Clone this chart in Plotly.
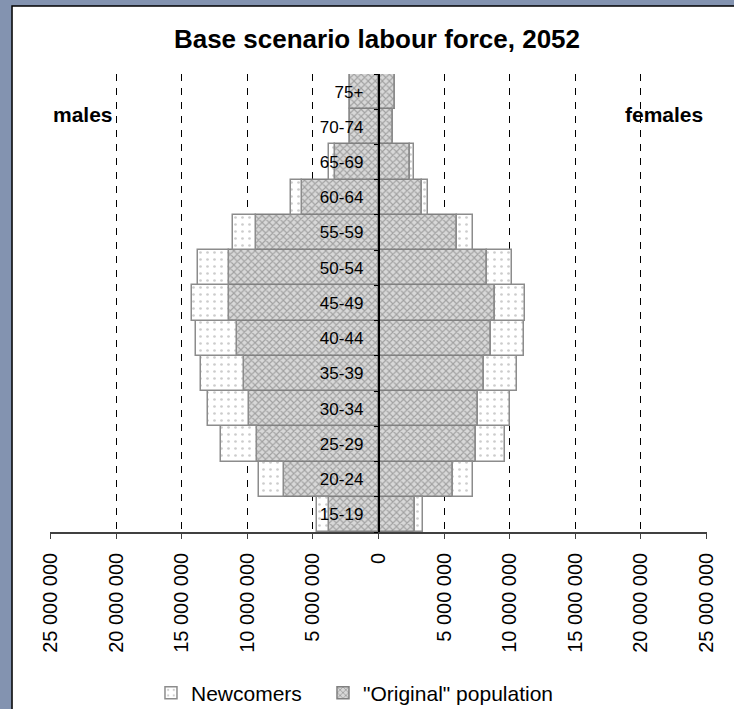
import plotly.graph_objects as go

AGE_GROUPS = ['15-19', '20-24', '25-29', '30-34', '35-39', '40-44', '45-49',
              '50-54', '55-59', '60-64', '65-69', '70-74', '75+']

MALE_ORIGINAL = [3810000, 7220000, 9260000, 9870000, 10270000, 10780000, 11400000,
                 11400000, 9360000, 5850000, 3330000, 2170000, 2170000]
MALE_NEWCOMERS = [870000, 1880000, 2740000, 3130000, 3280000, 3150000, 2800000,
                  2400000, 1770000, 860000, 480000, 30000, 30000]
FEMALE_ORIGINAL = [2770000, 5670000, 7440000, 7550000, 8050000, 8560000, 8920000,
                   8280000, 5950000, 3280000, 2390000, 1070000, 1240000]
FEMALE_NEWCOMERS = [630000, 1520000, 2210000, 2510000, 2520000, 2520000, 2280000,
                    1920000, 1220000, 480000, 350000, 30000, 20000]

X_TICKS = [-25000000, -20000000, -15000000, -10000000, -5000000, 0,
           5000000, 10000000, 15000000, 20000000, 25000000]

FONT = 'Liberation Sans, Arial, sans-serif'
BORDER = '#8393b0'

ORIG_STYLE = dict(color='#d6d6d6', line=dict(color='#808080', width=1.5),
                  pattern=dict(shape='x', fgcolor='#6a6a6a', bgcolor='#d8d8d8',
                               size=5, solidity=0.4))
NEW_STYLE = dict(color='white', line=dict(color='#8c8c8c', width=1.5),
                 pattern=dict(shape='.', fgcolor='#9a9a9a', bgcolor='white',
                              size=7, solidity=0.12))


def fmt(v):
    return f"{abs(v):,}".replace(',', ' ')


fig = go.Figure()

# males to the left (negative), females to the right
fig.add_trace(go.Bar(y=AGE_GROUPS, x=[-v for v in MALE_ORIGINAL], orientation='h',
                     name='"Original" population', legend='legend2', showlegend=False,
                     marker=ORIG_STYLE))
fig.add_trace(go.Bar(y=AGE_GROUPS, x=[-v for v in MALE_NEWCOMERS], orientation='h',
                     name='Newcomers', legend='legend', showlegend=False,
                     marker=NEW_STYLE))
fig.add_trace(go.Bar(y=AGE_GROUPS, x=FEMALE_ORIGINAL, orientation='h',
                     name='"Original" population', legend='legend2',
                     marker=ORIG_STYLE))
fig.add_trace(go.Bar(y=AGE_GROUPS, x=FEMALE_NEWCOMERS, orientation='h',
                     name='Newcomers', legend='legend',
                     marker=NEW_STYLE))

legend_style = dict(orientation='h', xanchor='left', xref='paper',
                    y=0.0226, yanchor='middle', yref='container',
                    font=dict(size=21), bgcolor='rgba(0,0,0,0)')

fig.update_layout(
    width=734, height=709,
    margin=dict(l=50, r=27, t=74, b=177, autoexpand=False),
    paper_bgcolor=BORDER,
    plot_bgcolor='white',
    barmode='relative',
    bargap=0,
    font=dict(family=FONT, color='black'),
    title=dict(text='<b>Base scenario labour force, 2052</b>', x=0.5136, xanchor='center',
               y=0.945, yanchor='middle', yref='container',
               font=dict(size=26, family=FONT, color='black')),
    xaxis=dict(range=[-25050000, 25050000], tickvals=X_TICKS,
               ticktext=[fmt(v) for v in X_TICKS], tickangle=-90,
               tickfont=dict(size=20), ticks='outside', ticklen=5,
               tickcolor='#404040', showline=True, linecolor='#404040', linewidth=1.5,
               showgrid=True, gridcolor='black', gridwidth=1, griddash='7px,7px',
               zeroline=False, fixedrange=True, automargin=False, ticklabelstandoff=6),
    yaxis=dict(categoryorder='array', categoryarray=AGE_GROUPS,
               anchor='free', position=0.5, showline=True, linecolor='black',
               linewidth=1.5, ticks='outside', ticklen=4, tickcolor='black',
               tickson='boundaries', tickfont=dict(size=17), showgrid=False,
               ticklabelstandoff=11, fixedrange=True, automargin=False),
    legend=dict(legend_style, x=0.1537),
    legend2=dict(legend_style, x=0.4155),
    showlegend=True,
    shapes=[
        # white chart panel inside the blue-grey frame
        dict(type='rect', xref='paper', yref='paper', layer='below',
             x0=-0.0578, x1=1.3, y0=-0.7, y1=1.1485,
             fillcolor='white', line=dict(color='black', width=1.5)),
    ],
    annotations=[
        dict(text='<b>males</b>', x=-24950000, xref='x', xanchor='left',
             y=0.9105, yref='paper', yanchor='middle', showarrow=False,
             font=dict(size=21)),
        dict(text='<b>females</b>', x=24900000, xref='x', xanchor='right',
             y=0.9105, yref='paper', yanchor='middle', showarrow=False,
             font=dict(size=21)),
    ],
)

fig.write_html("out.html", config={'displayModeBar': False},
               post_script="document.body.style.margin='0';")
